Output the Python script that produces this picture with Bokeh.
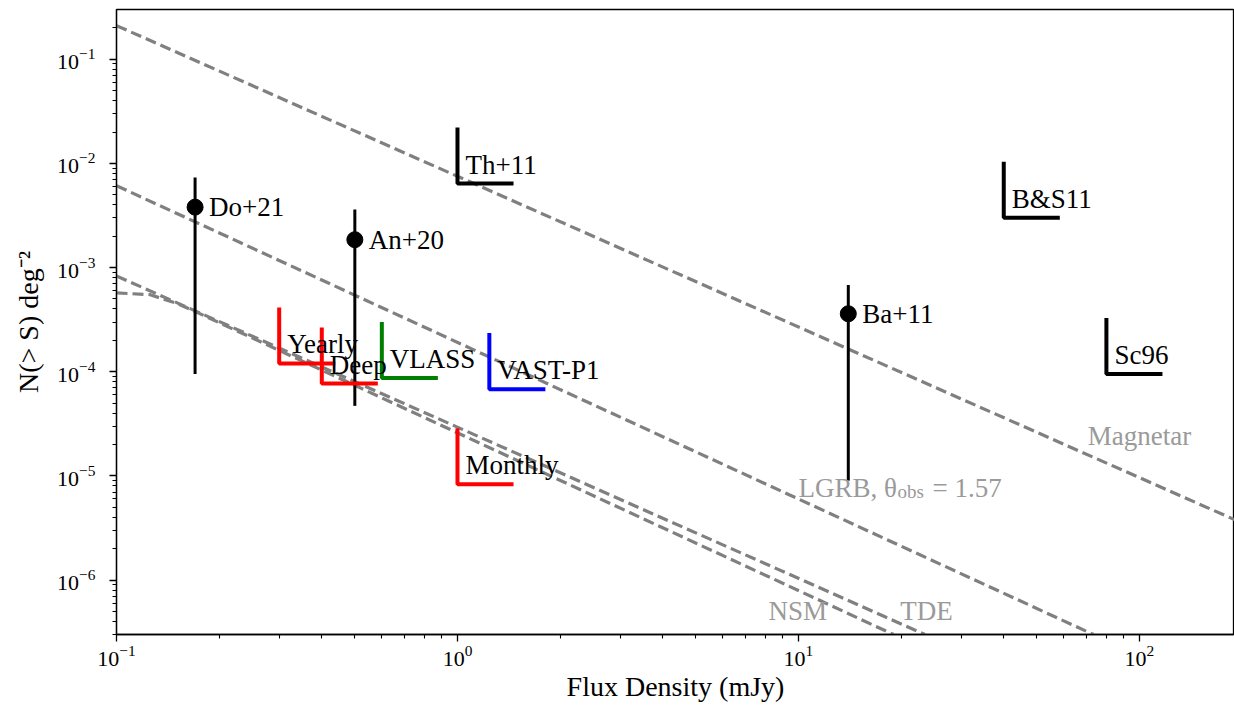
import numpy as np
from bokeh.plotting import figure
from bokeh.models import FixedTicker, Range1d
from bokeh.core.properties import value
from bokeh.embed import file_html
from bokeh.resources import INLINE

# ---------------- data ----------------
# model source-count curves (flux in mJy, N(>S) in deg^-2)
magnetar_flux = [0.1, 190.0]
magnetar_rate = [0.21, 3.8e-6]
lgrb_flux = [0.1, 73.3]
lgrb_rate = [6.1e-3, 3.0e-7]
tde_flux = [0.1, 23.5]
tde_rate = [8.3e-4, 3.0e-7]
nsm_flux = [0.1, 0.125, 0.151, 0.168, 19.0]
nsm_rate = [5.7e-4, 5.5e-4, 4.5e-4, 3.85e-4, 3.0e-7]

# detections with error bars
det_names = ["Do+21", "An+20", "Ba+11"]
det_flux = [0.17, 0.5, 14.0]
det_rate = [3.8e-3, 1.85e-3, 3.6e-4]
det_lo = [9.5e-5, 4.7e-5, 9.0e-6]
det_hi = [7.3e-3, 3.6e-3, 6.8e-4]

# literature upper limits (black)
lit_names = ["Th+11", "B&S11", "Sc96"]
lit_flux = [1.0, 40.0, 80.0]
lit_rate = [6.4e-3, 3.0e-3, 9.5e-5]

# survey limits (coloured)
srv_names = ["Yearly", "Deep", "VLASS", "VAST-P1", "Monthly"]
srv_flux = [0.3, 0.4, 0.6, 1.24, 1.0]
srv_rate = [1.2e-4, 7.7e-5, 8.7e-5, 6.8e-5, 8.3e-6]
srv_colors = ["#ff0000", "#ff0000", "#008000", "#0000ff", "#ff0000"]

# model labels
model_names = ["Magnetar", "NSM", "TDE"]
model_lx = [70.5, 8.17, 19.9]
model_ly = [1.95e-5, 4.0e-7, 4.0e-7]
lgrb_label_x = [10.0]
lgrb_label_y = [6.16e-6]

x_major = [0.1, 1.0, 10.0, 100.0]
y_major = [1e-6, 1e-5, 1e-4, 1e-3, 1e-2, 1e-1]

# ---------------- styling ----------------
FONT = "Liberation Serif"
GRAY_LINE = "#808080"
GRAY_TEXT = "#9a9a9a"
L_UP = 3.45      # vertical arm length of limit markers (multiplicative)
L_RIGHT = 1.46   # horizontal arm length of limit markers (multiplicative)

p = figure(width=1234, height=706, x_axis_type="log", y_axis_type="log",
           x_range=Range1d(0.1, 190.0), y_range=Range1d(3.0e-7, 0.3),
           output_backend="svg", toolbar_location=None,
           min_border_left=116, min_border_right=0, min_border_top=9,
           min_border_bottom=72, background_fill_color="white",
           border_fill_color="white")
p.outline_line_color = "black"
p.outline_line_width = 1.3
p.xgrid.visible = False
p.ygrid.visible = False

def minors(majors):
    out = [majors[0] / 10 * k for k in range(2, 10)]
    for m in majors:
        out += [m * k for k in range(2, 10)]
    return out

p.xaxis.ticker = FixedTicker(ticks=x_major, minor_ticks=minors(x_major))
p.yaxis.ticker = FixedTicker(ticks=y_major, minor_ticks=minors(y_major))

for ax in (p.xaxis[0], p.yaxis[0]):
    ax.axis_line_width = 1.3
    ax.major_tick_line_width = 1.3
    ax.minor_tick_line_width = 1.1
    ax.major_tick_out = 7
    ax.major_tick_in = 0
    ax.minor_tick_out = 4
    ax.minor_tick_in = 0
    ax.major_label_text_font = FONT
    ax.major_label_text_font_size = "22px"
    ax.major_label_text_color = "black"
    ax.axis_label_text_font = FONT
    ax.axis_label_text_font_size = "28px"
    ax.axis_label_text_font_style = "normal"
    ax.axis_label_text_color = "black"
p.xaxis.major_label_standoff = 4
p.yaxis.major_label_standoff = 14
p.xaxis.axis_label = "Flux Density (mJy)"
p.yaxis.axis_label = "N(> S) deg\u207b\u00b2"
p.xaxis.axis_label_standoff = 2
p.yaxis.axis_label_standoff = 10

# model curves
for fx, fy in [(magnetar_flux, magnetar_rate), (lgrb_flux, lgrb_rate),
               (tde_flux, tde_rate), (nsm_flux, nsm_rate)]:
    p.line(fx, fy, line_color=GRAY_LINE, line_width=3.2, line_dash="11 5")

# detections
p.segment(x0=det_flux, y0=det_lo, x1=det_flux, y1=det_hi,
          line_color="black", line_width=3)
p.scatter(det_flux, det_rate, size=16, color="black")
p.text(det_flux, det_rate, text=det_names, text_font=value(FONT),
       text_font_size=value("27px"), text_baseline="middle", text_align="left",
       x_offset=14, text_color="black")

# limit markers
def lshape(fx, fy):
    xs = [[x, x, x * L_RIGHT] for x in fx]
    ys = [[y * L_UP, y, y] for y in fy]
    return xs, ys

xs, ys = lshape(lit_flux, lit_rate)
p.multi_line(xs, ys, line_color="black", line_width=4)
xs, ys = lshape(srv_flux, srv_rate)
p.multi_line(xs=xs, ys=ys, line_color=srv_colors, line_width=4)

p.text(lit_flux, lit_rate, text=lit_names, text_font=value(FONT),
       text_font_size=value("27px"), text_baseline="alphabetic",
       x_offset=8, y_offset=-19, text_color="black")
p.text(srv_flux, srv_rate, text=srv_names, text_font=value(FONT),
       text_font_size=value("27px"), text_baseline="alphabetic",
       x_offset=8, y_offset=-19, text_color="black")

# model labels
p.text(model_lx, model_ly, text=model_names, text_font=value(FONT),
       text_font_size=value("27px"), text_baseline="alphabetic",
       y_offset=-10, text_color=GRAY_TEXT)
p.text(lgrb_label_x, lgrb_label_y, text=["LGRB, \u03b8"], text_font=value(FONT),
       text_font_size=value("27px"), text_baseline="alphabetic",
       y_offset=-10, text_color=GRAY_TEXT)
p.text(lgrb_label_x, lgrb_label_y, text=["obs"], text_font=value(FONT),
       text_font_size=value("19px"), text_baseline="alphabetic",
       x_offset=99, y_offset=-6, text_color=GRAY_TEXT)
p.text(lgrb_label_x, lgrb_label_y, text=["= 1.57"], text_font=value(FONT),
       text_font_size=value("27px"), text_baseline="alphabetic",
       x_offset=134, y_offset=-10, text_color=GRAY_TEXT)

open("out.html", "w").write(file_html(p, INLINE))
